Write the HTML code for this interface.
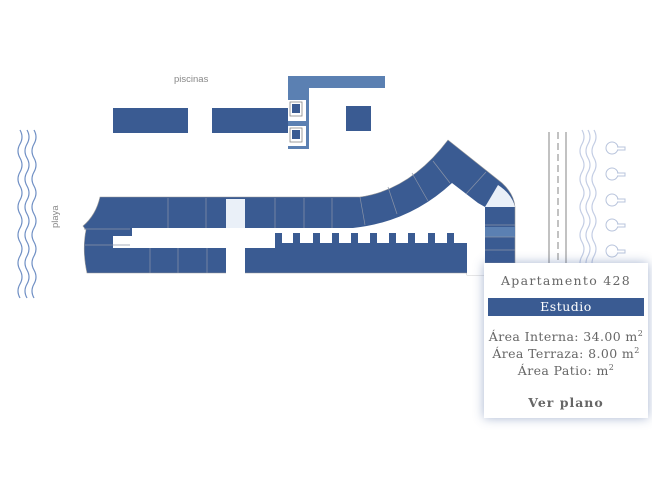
<!DOCTYPE html>
<html><head><meta charset="utf-8"><style>
html,body{margin:0;padding:0;background:#fff;width:652px;height:480px;overflow:hidden}
.tip{position:absolute;left:484px;top:263px;width:164px;height:155px;background:#fff;box-shadow:0 0 10px rgba(60,90,150,.45);font-family:"DejaVu Serif","Liberation Serif",serif;color:#666;text-align:center}
.t1{position:absolute;top:10px;left:0;right:0;font-size:12.5px;letter-spacing:1.3px}
.band{position:absolute;left:4px;right:4px;top:35px;height:18px;background:#3a5b92;color:#fff;font-size:12.5px;line-height:18px;letter-spacing:.5px}
.ln{position:absolute;left:0;right:0;font-size:12.5px;letter-spacing:.4px}
sup{font-size:8px}
</style></head><body>
<svg width="652" height="480" style="position:absolute;left:0;top:0">
<!-- top pieces -->
<text x="174" y="82" font-family="Liberation Sans,sans-serif" font-size="9.5" fill="#888">piscinas</text>
<rect x="113" y="108" width="75" height="25" fill="#3a5b92"/>
<rect x="212" y="108" width="76" height="25" fill="#3a5b92"/>
<rect x="288" y="76" width="97" height="12" fill="#5b80b2"/>
<rect x="288" y="86" width="21" height="63" fill="#5b80b2"/>
<rect x="288" y="100" width="18" height="21" fill="#fff"/>
<rect x="290" y="102" width="12" height="14" fill="none" stroke="#888" stroke-width=".8"/>
<rect x="292" y="104" width="8" height="9" fill="#3a5b92"/>
<rect x="288" y="126" width="18" height="20" fill="#fff"/>
<rect x="290" y="128" width="12" height="14" fill="none" stroke="#888" stroke-width=".8"/>
<rect x="292" y="130" width="8" height="9" fill="#3a5b92"/>
<rect x="346" y="106" width="25" height="25" fill="#3a5b92"/>
<!-- left waves -->
<g fill="none" stroke="#6f8fc4" stroke-width="1.2">
<path id="w" d="M20 130 q4 7 0 14 t0 14 t0 14 t0 14 t0 14 t0 14 t0 14 t0 14 t0 14 t0 14 t0 14 t0 14"/>
<use href="#w" x="7"/><use href="#w" x="14"/>
</g>
<text transform="translate(58,228) rotate(-90)" font-family="Liberation Sans,sans-serif" font-size="9.5" fill="#888">playa</text>
<!-- main building -->
<path d="M100 197 L360 197 Q410 190 448 140 L502 183 Q514 194 515 207 L515 263 L485 263 L485 275 L467 275 L467 273 L87 273 Q82 250 86 230 L83 226 Q96 215 100 197 Z" fill="#3a5b92" stroke="#999" stroke-width=".6"/>
<path d="M132 228 L353 228 Q410 222 452 183 L478 203 L485 207 L485 275 L467 275 L467 248 L113 248 L113 236 L132 236 Z" fill="#fff"/>
<path d="M275 243 L467 243 L467 248 L275 248 Z" fill="#3a5b92"/>
<g fill="#3a5b92">
<rect x="275" y="233" width="7" height="11"/><rect x="293" y="233" width="7" height="11"/><rect x="313" y="233" width="7" height="11"/><rect x="332" y="233" width="7" height="11"/><rect x="351" y="233" width="7" height="11"/><rect x="370" y="233" width="7" height="11"/><rect x="389" y="233" width="7" height="11"/><rect x="408" y="233" width="7" height="11"/><rect x="428" y="233" width="7" height="11"/><rect x="447" y="233" width="7" height="11"/>
</g>
<rect x="226" y="199" width="19" height="29" fill="#eaf0f8"/>
<rect x="226" y="228" width="19" height="47" fill="#fff"/>
<path d="M498 185 Q512 194 515 207 L485 207 Z" fill="#eaf0f8"/>
<rect x="485" y="227" width="30" height="10" fill="#5b80b2"/>
<g stroke="#8a94a8" stroke-width=".7" fill="none">
<line x1="168" y1="198" x2="168" y2="228"/><line x1="206" y1="198" x2="206" y2="228"/>
<line x1="275" y1="198" x2="275" y2="228"/><line x1="304" y1="198" x2="304" y2="228"/><line x1="332" y1="198" x2="332" y2="228"/>
<line x1="360" y1="197" x2="365" y2="225"/><line x1="388" y1="187" x2="397" y2="214"/><line x1="412" y1="173" x2="428" y2="201"/><line x1="433" y1="161" x2="450" y2="183"/>
<line x1="486" y1="172" x2="466" y2="194"/>
<line x1="150" y1="248" x2="150" y2="273"/><line x1="178" y1="248" x2="178" y2="273"/><line x1="207" y1="248" x2="207" y2="273"/>
<line x1="85" y1="245" x2="130" y2="245"/><line x1="84" y1="229" x2="130" y2="229"/>
<line x1="485" y1="237" x2="515" y2="237"/><line x1="485" y1="250" x2="515" y2="250"/><line x1="485" y1="225" x2="515" y2="225"/>
</g>
<!-- road -->
<g stroke="#999" stroke-width="1.2">
<line x1="549" y1="132" x2="549" y2="268"/><line x1="566" y1="132" x2="566" y2="268"/>
<line x1="558" y1="132" x2="558" y2="268" stroke-dasharray="7 4"/>
</g>
<g fill="none" stroke="#c3cde4" stroke-width="1.2">
<path id="w2" d="M582 130 q4 7 0 14 t0 14 t0 14 t0 14 t0 14 t0 14 t0 14 t0 14 t0 14 t0 14"/>
<use href="#w2" x="6"/><use href="#w2" x="12"/>
</g>
<g fill="#fff" stroke="#b8c4dc" stroke-width="1">
<circle cx="612" cy="148" r="6"/><circle cx="612" cy="174" r="6"/><circle cx="612" cy="200" r="6"/><circle cx="612" cy="225" r="6"/><circle cx="612" cy="251" r="6"/>
<path d="M617 147h8v3h-8M617 173h8v3h-8M617 199h8v3h-8M617 224h8v3h-8M617 250h8v3h-8"/>
</g>
</svg>
<div class="tip">
<div class="t1">Apartamento 428</div>
<div class="band">Estudio</div>
<div class="ln" style="top:66px">Área Interna: 34.00 m<sup>2</sup></div>
<div class="ln" style="top:83px">Área Terraza: 8.00 m<sup>2</sup></div>
<div class="ln" style="top:100px">Área Patio: m<sup>2</sup></div>
<div class="ln" style="top:132px;font-weight:bold;letter-spacing:1px">Ver plano</div>
</div>
</body></html>
